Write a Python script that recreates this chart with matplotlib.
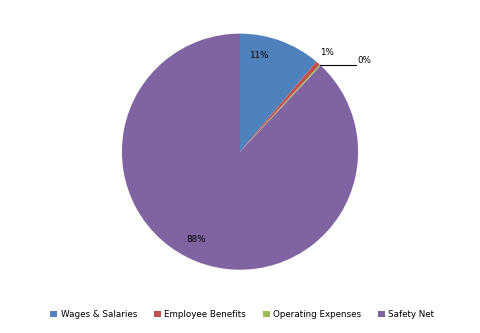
import matplotlib

matplotlib.use("Agg")
import matplotlib.pyplot as plt  # noqa: E402
import numpy as np  # noqa: E402

CATEGORIES = ["Wages & Salaries", "Employee Benefits", "Operating Expenses", "Safety Net"]
SHARES = [11.2, 0.6, 0.2, 88.0]
LABELS = ["11%", "1%", "0%", "88%"]
COLORS = ["#4F81BD", "#C0504D", "#9BBB59", "#8064A2"]

fig = plt.figure(figsize=(4.8, 3.33), dpi=100)
ax = fig.add_axes([0.254, 0.19, 0.492, 0.709])
wedges, _ = ax.pie(SHARES, colors=COLORS, startangle=90, counterclock=False,
                   radius=1.0, wedgeprops=dict(linewidth=0))
ax.set_xlim(-1, 1)
ax.set_ylim(-1, 1)
ax.set_aspect("auto")

fs = 6.3
# label placement: (radius, angle offset from wedge middle in degrees)
place = [(0.83, 9), (1.12, 0), None, (0.83, -5)]
for w, lab, p in zip(wedges, LABELS, place):
    mid = np.deg2rad((w.theta1 + w.theta2) / 2)
    if p is None:
        # leader line to the outside for the tiny slice
        x0, y0 = np.cos(mid), np.sin(mid)
        ax.plot([x0, x0 + 0.3], [y0, y0], color="black", lw=0.8, clip_on=False)
        ax.text(x0 + 0.31, y0, lab, fontsize=fs, ha="left", va="bottom")
        continue
    r, off = p
    a = mid + np.deg2rad(off)
    ax.text(r * np.cos(a), r * np.sin(a), lab, fontsize=fs, ha="center", va="center")

fig.legend(wedges, CATEGORIES, loc="center", bbox_to_anchor=(0.505, 0.055),
           ncol=4, frameon=False, fontsize=fs, handlelength=0.8, handleheight=0.8,
           handletextpad=0.4, columnspacing=1.9)

fig.savefig("out.png", dpi=100)
